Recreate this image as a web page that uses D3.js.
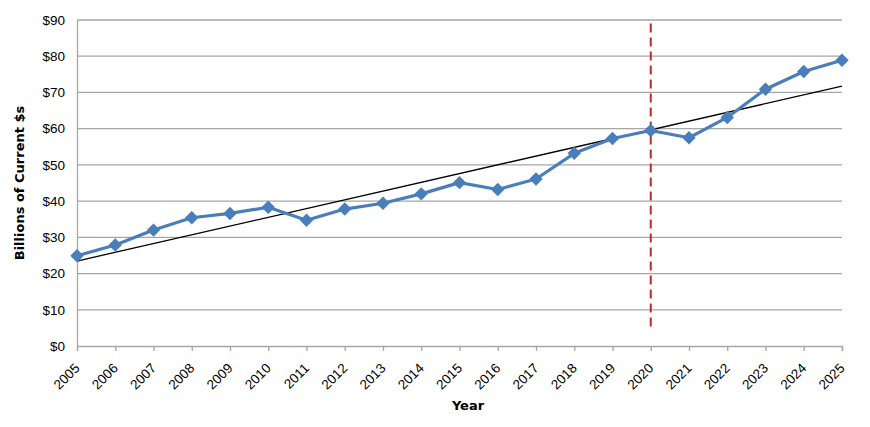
<!DOCTYPE html>
<html><head><meta charset="utf-8">
<script src="https://cdn.jsdelivr.net/npm/d3@7"></script>
<style>body{margin:0;background:#fff}svg{display:block;font-family:"DejaVu Sans",sans-serif}</style>
</head><body><svg id="c" width="870" height="427"></svg>
<script>
const years = [2005,2006,2007,2008,2009,2010,2011,2012,2013,2014,2015,2016,2017,2018,2019,2020,2021,2022,2023,2024,2025];
const values = [24.9,27.9,32.0,35.4,36.6,38.3,34.7,37.8,39.4,42.0,45.1,43.2,46.1,53.2,57.3,59.5,57.5,63.1,70.9,75.8,78.9];
const yTicks = [0,10,20,30,40,50,60,70,80,90];
const markerYear = 2020;

const svg = d3.select("#c");
const defs = svg.append("defs");
defs.append("filter").attr("id","blur").append("feGaussianBlur").attr("stdDeviation",1.2);
const x = d3.scaleLinear().domain([2005,2025]).range([77,842]);
const y = d3.scaleLinear().domain([0,90]).range([346,20]);

// gridlines
svg.append("g").selectAll("line").data(yTicks.filter(d=>d>0)).join("line")
  .attr("x1",x(2005)).attr("x2",x(2025)).attr("y1",d=>y(d)).attr("y2",d=>y(d))
  .attr("stroke","#a6a6a6").attr("stroke-width",1.3);

// y axis
const ya = svg.append("g").attr("transform",`translate(${x(2005)},0)`)
  .call(d3.axisLeft(y).tickValues(yTicks).tickSize(0).tickPadding(12).tickFormat(d=>"$"+d));
ya.select(".domain").attr("stroke","#a6a6a6").attr("stroke-width",1.3);
ya.selectAll("text").attr("font-size",13.5).attr("fill","#000");

// x axis
const xa = svg.append("g").attr("transform",`translate(0,${y(0)})`)
  .call(d3.axisBottom(x).tickValues(years).tickSize(5).tickFormat(d3.format("d")));
xa.select(".domain").attr("stroke","#a6a6a6").attr("stroke-width",1.3);
xa.selectAll(".tick line").attr("stroke","#a6a6a6").attr("stroke-width",1.3);
xa.selectAll("text").attr("font-size",13.5).attr("fill","#000")
  .attr("text-anchor","end").attr("x",0).attr("y",0).attr("dy",0).attr("dx",0)
  .attr("transform","translate(3,23) rotate(-45)");

// trendline (least squares)
const mx = d3.mean(years), my = d3.mean(values);
const slope = d3.sum(years.map((t,i)=>(t-mx)*(values[i]-my)))/d3.sum(years.map(t=>(t-mx)**2));
const icpt = my - slope*mx;
svg.append("line").attr("x1",x(2005)).attr("x2",x(2025))
  .attr("y1",y(icpt+slope*2005)).attr("y2",y(icpt+slope*2025))
  .attr("stroke","#000").attr("stroke-width",1.3);

// dashed marker line with shadow
svg.append("line").attr("x1",x(markerYear)+3).attr("x2",x(markerYear)+3).attr("y1",y(89)+2).attr("y2",y(4.5)+2)
  .attr("stroke","#bdbdbd").attr("stroke-width",3).attr("stroke-dasharray","9,5")
  .attr("filter","url(#blur)").attr("opacity",0.8);
svg.append("line").attr("x1",x(markerYear)).attr("x2",x(markerYear)).attr("y1",y(89)).attr("y2",y(4.5))
  .attr("stroke","#c0282d").attr("stroke-width",2).attr("stroke-dasharray","9,5");

// data line
const line = d3.line().x((d,i)=>x(years[i])).y(d=>y(d));
svg.append("path").datum(values).attr("d",line).attr("fill","none")
  .attr("stroke","#4a7ebb").attr("stroke-width",3.2).attr("stroke-linejoin","round");
svg.append("g").selectAll("path").data(values).join("path")
  .attr("d",d3.symbol(d3.symbolSquare,90))
  .attr("transform",(d,i)=>`translate(${x(years[i])},${y(d)}) rotate(45)`)
  .attr("fill","#4a7ebb");

// titles
svg.append("text").attr("transform",`translate(24,${y(45)}) rotate(-90)`)
  .attr("text-anchor","middle").attr("font-size",13).attr("font-weight","bold").text("Billions of Current $s");
svg.append("text").attr("x",468).attr("y",410).attr("text-anchor","middle")
  .attr("font-size",13).attr("font-weight","bold").text("Year");
</script></body></html>
